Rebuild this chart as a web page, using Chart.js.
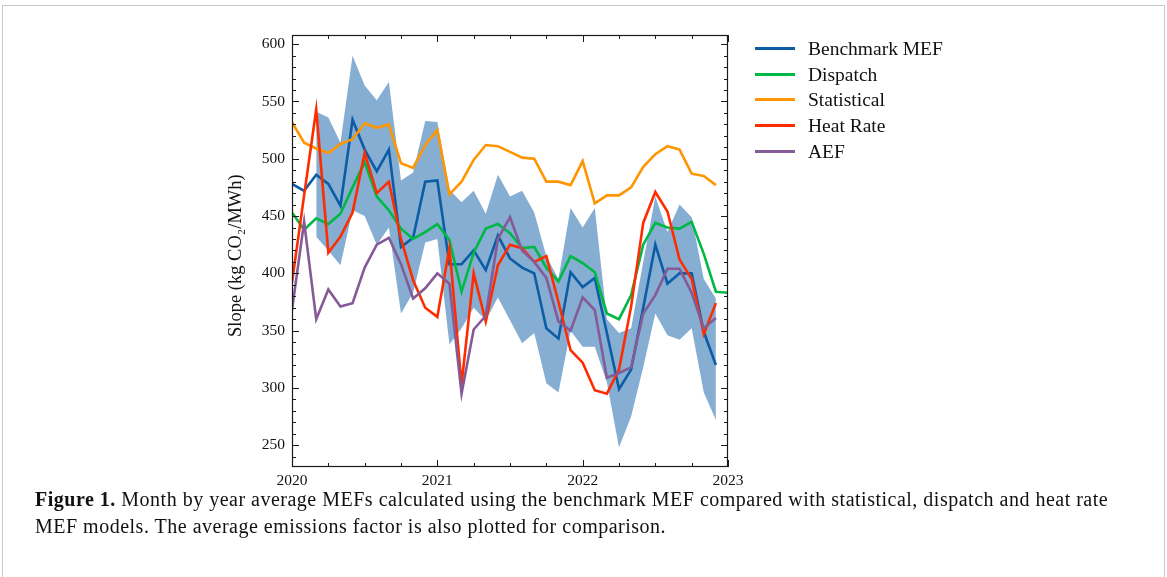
<!DOCTYPE html>
<html>
<head>
<meta charset="utf-8">
<script src="https://cdn.jsdelivr.net/npm/chart.js@4.4.1/dist/chart.umd.min.js"></script>
<style>
    body { margin: 0; background: #fff; width: 1167px; height: 577px; overflow: hidden; position: relative; }
    .frame { position: absolute; left: 2px; top: 5px; width: 1161px; height: 600px; border: 1px solid #c8c8c8; }
    #chartBox { position: absolute; left: 200px; top: 0; width: 560px; height: 500px; }
    .legend { position: absolute; left: 755px; top: 36px; font-family: "Liberation Serif", serif; font-size: 19.5px; color: #111; }
    .legend .row { position: relative; height: 25.7px; line-height: 25.7px; }
    .legend .swatch { position: absolute; left: 0; top: 11px; width: 40px; height: 3px; }
    .legend .label { position: absolute; left: 53px; top: 0; white-space: nowrap; }
    .caption { position: absolute; left: 35px; top: 486px; width: 1100px; font-family: "Liberation Serif", serif; font-size: 20px; letter-spacing: 0.5px; line-height: 27px; color: #111; }
</style>
</head>
<body>
<div class="frame"></div>
<div id="chartBox"><canvas id="mefChart" width="560" height="500"></canvas></div>
<div class="legend" id="legend"></div>
<div class="caption"><b>Figure 1.</b> Month by year average MEFs calculated using the benchmark MEF compared with statistical, dispatch and heat rate MEF models. The average emissions factor is also plotted for comparison.</div>

<script>
// Aylık değerler, Ocak 2020 - Aralık 2022 (kg CO2/MWh)
const startYear = 2020;
const benchmark = [478, 472, 486, 478, 459, 534, 508, 489, 508, 423, 431, 480, 481, 408, 408, 420, 403, 433, 413, 405, 400, 352, 343, 401, 388, 396, 348, 299, 316, 370, 425, 391, 400, 400, 349, 320];
const dispatch = [453, 438, 448, 443, 452, 475, 497, 467, 455, 439, 430, 436, 443, 429, 384, 418, 439, 443, 435, 422, 423, 405, 393, 415, 409, 401, 365, 360, 381, 425, 444, 440, 439, 445, 417, 384, 383];
const statistical = [532, 514, 509, 505, 513, 517, 531, 527, 530, 496, 492, 512, 525, 469, 480, 499, 512, 511, 506, 501, 500, 480, 480, 477, 498, 461, 468, 468, 475, 493, 504, 511, 508, 487, 485, 477];
const heatRate = [392, 468, 543, 418, 432, 453, 505, 470, 480, 430, 394, 370, 362, 422, 303, 400, 358, 407, 425, 422, 410, 415, 375, 333, 322, 298, 295, 316, 371, 444, 471, 454, 412, 395, 347, 374];
const aef = [368, 445, 360, 386, 371, 374, 405, 425, 431, 408, 378, 387, 400, 391, 295, 351, 363, 430, 449, 420, 410, 396, 358, 350, 379, 368, 309, 313, 318, 365, 381, 404, 404, 383, 352, 361];
// Benchmark MEF belirsizlik bandı
const bandUpper = [null, null, 541, 536, 514, 590, 564, 551, 567, 481, 488, 533, 532, 473, 462, 472, 452, 486, 467, 472, 453, 415, 395, 457, 440, 457, 360, 348, 352, 410, 467, 436, 460, 449, 395, 378];
const bandLower = [null, null, 432, 420, 407, 455, 450, 425, 440, 365, 383, 427, 430, 338, 352, 370, 359, 379, 359, 339, 348, 304, 296, 350, 336, 336, 305, 248, 275, 318, 365, 346, 342, 352, 296, 272];
const yearTicks = [2020, 2021, 2022, 2023];
const yTicks = [250, 300, 350, 400, 450, 500, 550, 600];

const seriesNames = ['Benchmark MEF', 'Dispatch', 'Statistical', 'Heat Rate', 'AEF'];
const seriesColors = ['#0C5DA5', '#00B945', '#FF9500', '#FF2C00', '#845B97'];

// Ay indeksini yıl ekseninde konuma çevir
function toPoints(values) {
    const pts = [];
    values.forEach((v, i) => {
        if (v !== null) pts.push({ x: startYear + i / 12, y: v });
    });
    return pts;
}

function lineDataset(label, values, color, order) {
    return {
        label: label,
        data: toPoints(values),
        borderColor: color,
        backgroundColor: color,
        borderWidth: 2.6,
        pointRadius: 0,
        tension: 0,
        fill: false,
        order: order
    };
}

// Çerçeve ve içe dönük tik çizgileri
const frameTicks = {
    id: 'frameTicks',
    afterDatasetsDraw(chart) {
        const { ctx, chartArea: a, scales } = chart;
        const x = scales.x, y = scales.y;
        ctx.save();
        ctx.strokeStyle = '#1a1a1a';
        ctx.lineWidth = 1.2;
        ctx.strokeRect(a.left + 0.5, a.top + 0.5, a.right - a.left - 1, a.bottom - a.top - 1);

        ctx.lineWidth = 1;
        ctx.beginPath();
        // y tikleri
        for (let v = 240; v <= y.max; v += 10) {
            const py = Math.round(y.getPixelForValue(v)) + 0.5;
            const len = (v % 50 === 0) ? 7 : 4;
            ctx.moveTo(a.left, py); ctx.lineTo(a.left + len, py);
            ctx.moveTo(a.right, py); ctx.lineTo(a.right - len, py);
        }
        // x tikleri (çeyreklik)
        for (let q = 0; q <= 12; q++) {
            const v = yearTicks[0] + q / 4;
            const px = Math.round(x.getPixelForValue(v)) + 0.5;
            const len = (q % 4 === 0) ? 7 : 4;
            ctx.moveTo(px, a.bottom); ctx.lineTo(px, a.bottom - len);
            ctx.moveTo(px, a.top); ctx.lineTo(px, a.top + len);
        }
        ctx.stroke();
        ctx.restore();
    }
};

const tickFont = { family: '"Liberation Serif", serif', size: 15.5 };

const chart = new Chart(document.getElementById('mefChart'), {
    type: 'line',
    data: {
        datasets: [
            {
                label: 'bandUpper',
                data: toPoints(bandUpper),
                borderWidth: 0,
                pointRadius: 0,
                backgroundColor: 'rgba(12, 93, 165, 0.5)',
                fill: '+1',
                order: 10
            },
            {
                label: 'bandLower',
                data: toPoints(bandLower),
                borderWidth: 0,
                pointRadius: 0,
                fill: false,
                order: 11
            },
            lineDataset(seriesNames[0], benchmark, seriesColors[0], 5),
            lineDataset(seriesNames[1], dispatch, seriesColors[1], 4),
            lineDataset(seriesNames[2], statistical, seriesColors[2], 3),
            lineDataset(seriesNames[3], heatRate, seriesColors[3], 2),
            lineDataset(seriesNames[4], aef, seriesColors[4], 1)
        ]
    },
    options: {
        responsive: false,
        animation: false,
        devicePixelRatio: 1,
        layout: { padding: { top: 35, right: 32, left: 0, bottom: 0 } },
        plugins: {
            legend: { display: false },
            tooltip: { enabled: false }
        },
        scales: {
            x: {
                type: 'linear',
                min: yearTicks[0],
                max: yearTicks[yearTicks.length - 1],
                grid: { display: false, drawTicks: false },
                border: { display: false },
                afterBuildTicks: (scale) => { scale.ticks = yearTicks.map(v => ({ value: v })); },
                afterFit: (scale) => { scale.height = 33; },
                ticks: {
                    color: '#111',
                    font: tickFont,
                    padding: 5,
                    maxRotation: 0,
                    callback: (v) => String(v)
                }
            },
            y: {
                min: 231,
                max: 608,
                grid: { display: false, drawTicks: false },
                border: { display: false },
                afterBuildTicks: (scale) => { scale.ticks = yTicks.map(v => ({ value: v })); },
                afterFit: (scale) => { scale.width = 92; },
                ticks: {
                    color: '#111',
                    font: tickFont,
                    padding: 7,
                    callback: (v) => String(v)
                },
                title: {
                    display: true,
                    text: 'Slope (kg CO₂/MWh)\u2002',
                    color: '#111',
                    font: { family: '"Liberation Serif", serif', size: 18.5 },
                    padding: { top: 25, bottom: 0 }
                }
            }
        }
    },
    plugins: [frameTicks]
});

// Lejant
const legendEl = document.getElementById('legend');
seriesNames.forEach((name, i) => {
    const row = document.createElement('div');
    row.className = 'row';
    row.innerHTML = '<div class="swatch" style="background:' + seriesColors[i] + '"></div><div class="label">' + name + '</div>';
    legendEl.appendChild(row);
});
</script>
</body>
</html>
